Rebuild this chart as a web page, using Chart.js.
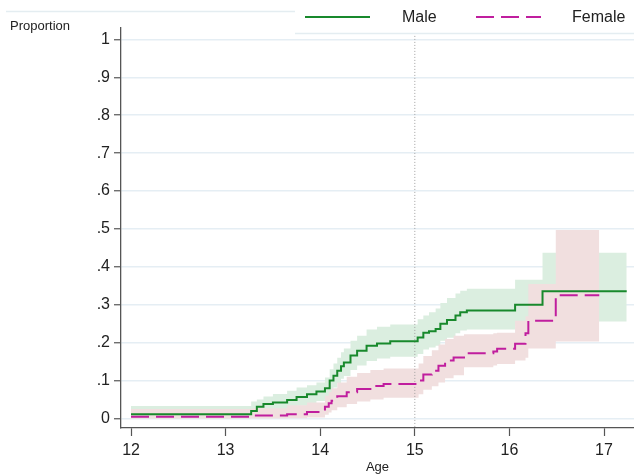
<!DOCTYPE html>
<html lang="en">
<head>
<meta charset="utf-8">
<script src="https://cdn.jsdelivr.net/npm/chart.js"></script>
<style>
  body { margin: 0; background: #fff; }
  canvas { display: block; }
</style>
</head>
<body>
<canvas id="kmChart" width="634" height="475"></canvas>
<script>
// step data (age at which the value changes, new value)
const maleAge = [12, 13.27, 13.33, 13.40, 13.50, 13.65, 13.75, 13.86, 13.96, 14.05, 14.10, 14.14, 14.18, 14.22, 14.25, 14.32, 14.39, 14.49, 14.60, 14.74, 15.03, 15.09, 15.15, 15.22, 15.27, 15.34, 15.43, 15.48, 15.55, 16.06, 16.35, 17.24];
const maleProp = [0.011, 0.02, 0.031, 0.038, 0.042, 0.049, 0.057, 0.064, 0.071, 0.08, 0.10, 0.113, 0.126, 0.138, 0.148, 0.166, 0.179, 0.192, 0.198, 0.204, 0.214, 0.226, 0.23, 0.236, 0.25, 0.26, 0.272, 0.28, 0.285, 0.30, 0.336, 0.336];
const maleUpper = [0.033, 0.045, 0.05, 0.058, 0.065, 0.073, 0.082, 0.088, 0.095, 0.108, 0.13, 0.145, 0.16, 0.175, 0.185, 0.205, 0.218, 0.235, 0.242, 0.248, 0.262, 0.272, 0.28, 0.29, 0.305, 0.318, 0.33, 0.337, 0.342, 0.366, 0.437, 0.437];
const maleLower = [0.0, 0.005, 0.012, 0.018, 0.022, 0.028, 0.034, 0.04, 0.046, 0.053, 0.07, 0.082, 0.094, 0.105, 0.112, 0.128, 0.14, 0.152, 0.158, 0.163, 0.17, 0.182, 0.187, 0.192, 0.205, 0.213, 0.225, 0.232, 0.235, 0.25, 0.256, 0.256];

const femaleAge = [12, 13.29, 13.65, 13.86, 14.05, 14.09, 14.12, 14.18, 14.28, 14.39, 14.53, 14.67, 15.04, 15.09, 15.18, 15.25, 15.32, 15.41, 15.52, 15.83, 15.87, 16.06, 16.17, 16.20, 16.49, 16.95];
const femaleProp = [0.005, 0.008, 0.011, 0.017, 0.031, 0.04, 0.047, 0.059, 0.069, 0.078, 0.086, 0.091, 0.10, 0.116, 0.126, 0.139, 0.153, 0.161, 0.172, 0.177, 0.184, 0.197, 0.225, 0.258, 0.325, 0.325];
const femaleUpper = [0.025, 0.027, 0.035, 0.042, 0.06, 0.07, 0.08, 0.095, 0.11, 0.12, 0.128, 0.132, 0.145, 0.165, 0.18, 0.195, 0.21, 0.218, 0.222, 0.225, 0.226, 0.258, 0.27, 0.355, 0.497, 0.497];
const femaleLower = [0.0, 0.0, 0.001, 0.003, 0.01, 0.016, 0.022, 0.03, 0.038, 0.045, 0.05, 0.055, 0.064, 0.076, 0.085, 0.095, 0.106, 0.114, 0.135, 0.14, 0.144, 0.153, 0.16, 0.185, 0.203, 0.203];

const xTicks = [12, 13, 14, 15, 16, 17];
const yTicks = [0, 0.1, 0.2, 0.3, 0.4, 0.5, 0.6, 0.7, 0.8, 0.9, 1];
const refAge = 15;
const seriesNames = ['Male', 'Female'];

const pts = (xs, ys) => xs.map((x, i) => ({ x: x, y: ys[i] }));

const GREEN = '#18892c';
const MAGENTA = '#c01e9e';
const FONT = '"Liberation Sans", Arial, sans-serif';

// legend box at top right, drawn like the stata one
const stataLegend = {
  id: 'stataLegend',
  afterDraw(chart) {
    const ctx = chart.ctx;
    ctx.save();
    ctx.strokeStyle = '#e4edf1';
    ctx.lineWidth = 1.5;
    ctx.beginPath();
    ctx.moveTo(6, 11.5); ctx.lineTo(295, 11.5);
    ctx.stroke();
    ctx.fillStyle = '#fff';
    ctx.fillRect(295, 0, 339, 33);
    ctx.beginPath();
    ctx.moveTo(295, 33.5); ctx.lineTo(634, 33.5);
    ctx.stroke();

    const male = chart.data.datasets[5];
    const female = chart.data.datasets[6];
    ctx.lineWidth = 2;
    ctx.strokeStyle = male.borderColor;
    ctx.beginPath(); ctx.moveTo(305, 17); ctx.lineTo(370, 17); ctx.stroke();
    ctx.strokeStyle = female.borderColor;
    ctx.setLineDash(female.borderDash);
    ctx.beginPath(); ctx.moveTo(476, 17); ctx.lineTo(541, 17); ctx.stroke();
    ctx.setLineDash([]);

    ctx.fillStyle = '#222';
    ctx.font = '16px ' + FONT;
    ctx.textBaseline = 'middle';
    ctx.fillText(male.label, 402, 18);
    ctx.fillText(female.label, 572, 18);

    ctx.font = '13px ' + FONT;
    ctx.fillText('Proportion', 10, 26);
    ctx.restore();
  }
};

new Chart(document.getElementById('kmChart'), {
  type: 'line',
  data: {
    datasets: [
      { label: 'maleUpper', data: pts(maleAge, maleUpper), fill: '+1', backgroundColor: '#dbeee0', borderWidth: 0, pointRadius: 0, stepped: true, order: 5 },
      { label: 'maleLower', data: pts(maleAge, maleLower), fill: false, borderWidth: 0, pointRadius: 0, stepped: true, order: 5 },
      { label: 'femaleUpper', data: pts(femaleAge, femaleUpper), fill: '+1', backgroundColor: '#f1dfdf', borderWidth: 0, pointRadius: 0, stepped: true, order: 4 },
      { label: 'femaleLower', data: pts(femaleAge, femaleLower), fill: false, borderWidth: 0, pointRadius: 0, stepped: true, order: 4 },
      { label: 'ref', data: [{ x: refAge, y: -0.03 }, { x: refAge, y: 1.03 }], borderColor: '#a0a0a0', borderWidth: 1, borderDash: [1, 2], pointRadius: 0, fill: false, order: 3 },
      { label: seriesNames[0], data: pts(maleAge, maleProp), borderColor: GREEN, borderWidth: 2, pointRadius: 0, stepped: true, fill: false, order: 0 },
      { label: seriesNames[1], data: pts(femaleAge, femaleProp), borderColor: MAGENTA, borderWidth: 2, borderDash: [18, 7], pointRadius: 0, stepped: true, fill: false, order: 1 }
    ]
  },
  options: {
    responsive: false,
    animation: false,
    devicePixelRatio: 1,
    layout: { padding: { top: 28, right: 0, bottom: 0, left: 0 } },
    plugins: { legend: { display: false }, tooltip: { enabled: false } },
    scales: {
      x: {
        type: 'linear',
        min: 11.894,
        max: 17.317,
        afterBuildTicks: s => { s.ticks = xTicks.map(v => ({ value: v })); },
        afterFit: s => { s.height = 47; },
        ticks: { color: '#222', padding: 5, font: { size: 16, family: FONT }, maxRotation: 0 },
        grid: { drawOnChartArea: false, drawTicks: true, tickLength: 8, tickColor: '#555', tickWidth: 1.2 },
        border: { display: true, color: '#555', width: 1.3 },
        title: { display: true, text: 'Age', color: '#222', padding: { top: 0, bottom: 0 }, font: { size: 13, family: FONT } }
      },
      y: {
        min: -0.025,
        max: 1.03,
        afterBuildTicks: s => { s.ticks = yTicks.map(v => ({ value: v })); },
        afterFit: s => { s.width = 121; },
        ticks: {
          color: '#222', padding: 4,
          font: { size: 16, family: FONT },
          callback: v => v === 0 ? '0' : (v === 1 ? '1' : '.' + Math.round(v * 10))
        },
        grid: { color: '#e5eef4', lineWidth: 1.5, drawTicks: true, tickLength: 7, tickColor: '#555', tickWidth: 1.2 },
        border: { display: true, color: '#555', width: 1.3 }
      }
    }
  },
  plugins: [stataLegend]
});
</script>
</body>
</html>
